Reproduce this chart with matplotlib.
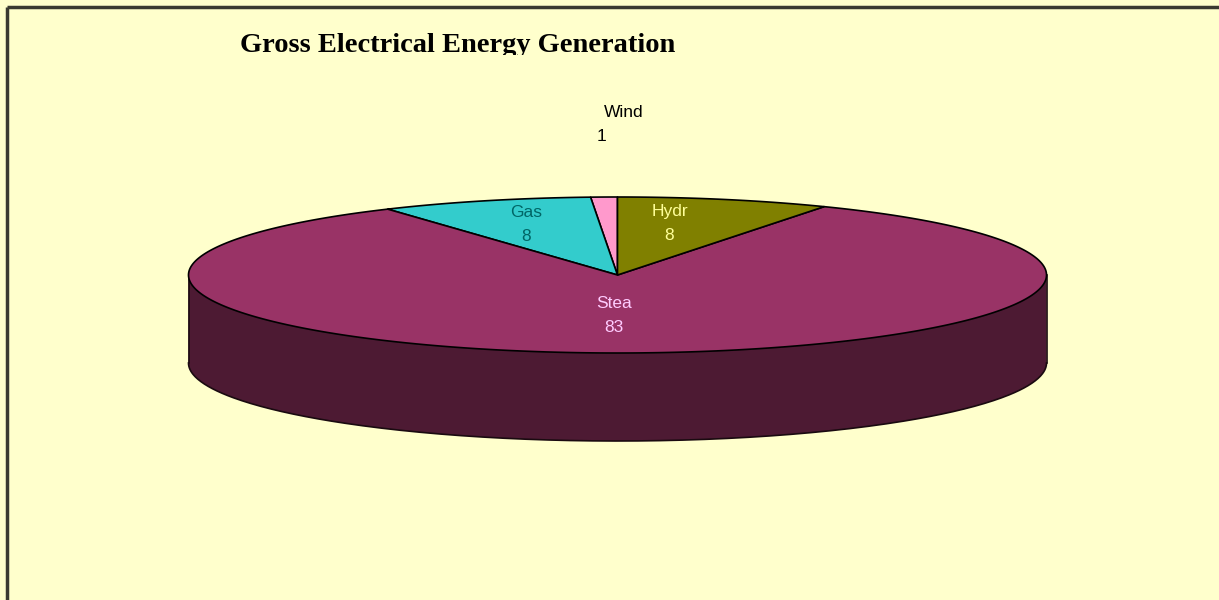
import numpy as np
import matplotlib
matplotlib.use('Agg')
import matplotlib.pyplot as plt
from matplotlib.patches import Polygon
from matplotlib.transforms import Bbox

# data (counter-clockwise from 12 o'clock)
labels = ['Wind', 'Gas', 'Stea', 'Hydr']
values = [1, 8, 83, 8]
top_colors = ['#ff99cc', '#33cccc', '#993366', '#808000']
side_colors = ['#803366', '#1a6666', '#4d1a33', '#404000']
text_colors = ['#000000', '#006666', '#ffccff', '#ffff99']

BG = '#ffffcc'
W, H = 1219, 600

fig = plt.figure(figsize=(W / 100, H / 100), dpi=100)
fig.patch.set_facecolor(BG)
ax = fig.add_axes([0, 0, 1, 1])
ax.set_xlim(0, W)
ax.set_ylim(H, 0)
ax.axis('off')
ax.set_facecolor(BG)

# frame (top + left only, bottom/right cut off)
ax.plot([7, W], [6.5, 6.5], color='#3a3a30', lw=2.5, solid_capstyle='butt')
ax.plot([7, 7], [6.5, H], color='#3a3a30', lw=2.5, solid_capstyle='butt')

# pie geometry in pixels
cx, cy = 617.5, 275
a, b = 429, 78
depth = 88


def pt(t, dy=0.0):
    return cx + a * np.cos(t), cy - b * np.sin(t) + dy


fracs = np.array(values, dtype=float) / sum(values)
starts = np.pi / 2 + 2 * np.pi * np.concatenate([[0], np.cumsum(fracs)[:-1]])
ends = starts + 2 * np.pi * fracs

# side walls (front half: angles between pi and 2pi)
for s, e, sc in zip(starts, ends, side_colors):
    for off in (0, 2 * np.pi, -2 * np.pi):
        lo = max(s + off, np.pi)
        hi = min(e + off, 2 * np.pi)
        if hi <= lo:
            continue
        t = np.linspace(lo, hi, 200)
        x, y = pt(t)
        xb, yb = pt(t[::-1], depth)
        poly = np.column_stack([np.concatenate([x, xb]), np.concatenate([y, yb])])
        ax.add_patch(Polygon(poly, closed=True, facecolor=sc, edgecolor='none', zorder=1))

# side outline
t = np.linspace(np.pi, 2 * np.pi, 300)
xb, yb = pt(t, depth)
ax.plot(xb, yb, color='#1a0a10', lw=1.2, zorder=2)
for tt in (np.pi, 2 * np.pi):
    x0, y0 = pt(tt)
    ax.plot([x0, x0], [y0, y0 + depth], color='#1a0a10', lw=1.2, zorder=2)

# top face wedges
for s, e, tc in zip(starts, ends, top_colors):
    t = np.linspace(s, e, max(int(200 * (e - s)), 10))
    x, y = pt(t)
    poly = np.column_stack([np.concatenate([[cx], x]), np.concatenate([[cy], y])])
    ax.add_patch(Polygon(poly, closed=True, facecolor=tc, edgecolor='black',
                         lw=1.2, joinstyle='round', zorder=3))

# labels
FS = 12.5
for lab, v, s, e, col in zip(labels, values, starts, ends, text_colors):
    m = (s + e) / 2
    if v / sum(values) < 0.05:
        # small slice: label pulled out above the pie
        x, y = pt(m)
        y = y - 73
        ax.text(x + 20, y - 12, lab, ha='center', va='center', fontsize=FS,
                family='Liberation Sans', color=col, zorder=5)
        ax.text(x - 3, y + 12, str(v), ha='center', va='center', fontsize=FS,
                family='Liberation Sans', color=col, zorder=5)
    else:
        r = 0.6
        x = cx + r * a * np.cos(m) - 12
        y = cy - r * b * np.sin(m) - 6
        ax.text(x, y - 12, lab, ha='center', va='center', fontsize=FS,
                family='Liberation Sans', color=col, zorder=5)
        ax.text(x, y + 12, str(v), ha='center', va='center', fontsize=FS,
                family='Liberation Sans', color=col, zorder=5)

title = ax.text(240, 46, 'Gross Electrical Energy Generation', ha='left', va='center',
                fontsize=20.5, fontweight='bold', family='Liberation Serif',
                color='black')
# the title is cut off just under the baseline in the original
title.set_clip_box(Bbox.from_extents(0, H - 55, W, H))
title.set_clip_on(True)

fig.savefig('out.png', dpi=100, facecolor=BG)
